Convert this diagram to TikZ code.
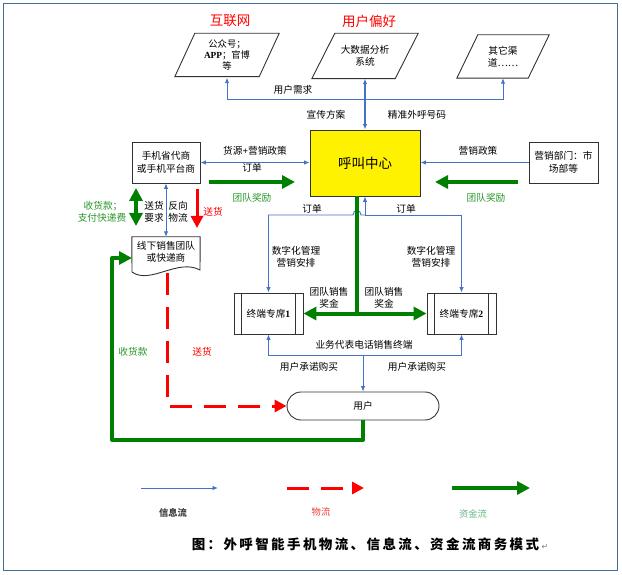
\documentclass[tikz,border=0pt]{standalone}
\usepackage{fontspec}
\setmainfont{Noto Sans CJK SC}
\newfontfamily\dejavu{DejaVu Sans}
\newfontfamily\serifl{Liberation Serif}
\usetikzlibrary{arrows.meta,shapes.misc}
\definecolor{infob}{RGB}{68,114,196}
\definecolor{mgreen}{RGB}{0,128,0}
\definecolor{tgreen}{RGB}{40,150,40}
\definecolor{lgreen}{RGB}{100,180,130}
\definecolor{bordc}{RGB}{65,110,155}
\definecolor{boxc}{RGB}{50,50,50}
\definecolor{lred}{RGB}{240,60,60}
\makeatletter
\newcommand\spacedtext[1]{\@tfor\ch:=#1\do{\ch\kern2.4pt}}
\makeatother
\begin{document}
\begin{tikzpicture}[x=1pt,y=-1pt,
  every node/.style={inner sep=0pt, font=\fontsize{9.7}{12.5}\selectfont, align=center},
  boxline/.style={draw=boxc, line width=0.9pt},
  box/.style={boxline, minimum width=68pt, minimum height=41pt},
  plain/.style={minimum width=84pt, minimum height=45pt},
  lab/.style={text=black},
  glab/.style={text=tgreen},
  rlab/.style={text=red},
  title/.style={text=red, font=\fontsize{13.5}{15}\selectfont},
  info/.style={draw=infob, line width=0.9pt, >={Latex[length=5.5pt,width=4.5pt]}},
  money/.style={draw=mgreen, line width=4pt, line join=round, >={Triangle[length=13pt,width=13pt]}},
  goods/.style={draw=red, line width=3pt, dash pattern=on 22pt off 12pt, >={Triangle[length=12pt,width=12pt]}},
  goodsolid/.style={draw=red, line width=3pt, >={Triangle[length=12pt,width=12pt]}}
]
\useasboundingbox (0,0) rectangle (622,575);
\draw[bordc, line width=1.5pt] (3.5,3.5) rectangle (617.5,570.5);

% ---- top titles
\node[title] (t-net) at (230,21) {互联网};
\node[title] (t-pref) at (369,21) {用户偏好};

% ---- parallelograms
\node[plain, font=\fontsize{9.3}{11}\selectfont] (p1) at (227,55) {公众号；\\{\serifl\bfseries APP}；官博\\等};
\draw[boxline] ([xshift=10pt,yshift=-1pt]p1.north west) -- ([xshift=10pt,yshift=-1pt]p1.north east) -- ([xshift=-10pt,yshift=1pt]p1.south east) -- ([xshift=-10pt,yshift=1pt]p1.south west) -- cycle;
\node[plain, minimum width=83pt] (p2) at (365,56) {大数据分析\\系统};
\draw[boxline] ([xshift=11.5pt]p2.north west) -- ([xshift=11.5pt]p2.north east) -- ([xshift=-11.5pt]p2.south east) -- ([xshift=-11.5pt]p2.south west) -- cycle;
\node[plain, minimum width=71pt, minimum height=43pt] (p3) at (503,56.5) {其它渠\\道……};
\draw[boxline] ([xshift=10.5pt]p3.north west) -- ([xshift=10.5pt]p3.north east) -- ([xshift=-10.5pt]p3.south east) -- ([xshift=-10.5pt]p3.south west) -- cycle;

% ---- main boxes
\node[box, fill=yellow, minimum width=110pt, minimum height=66pt, font=\fontsize{13.5}{15}\selectfont] (cc) at (365,163) {呼叫中心};
\node[box] (lb) at (166,162.5) {手机省代商\\或手机平台商};
\node[box, minimum width=69pt] (rb) at (563.5,162.5) {营销部门：市\\场部等};

% document shape
\node[minimum width=68pt, minimum height=30pt] (doc) at (166,252) {线下销售团队\\或快递商};
\draw[boxline] (132,272) -- (doc.north west) -- (doc.north east) -- (200,270) .. controls (178,258) and (150,285) .. (132,272);

% terminals
\node[box, minimum width=69pt] (t1) at (268.5,313.5) {终端专席{\serifl\bfseries 1}};
\draw[boxline] ([xshift=8pt]t1.north west) -- ([xshift=8pt]t1.south west);
\draw[boxline] ([xshift=-8pt]t1.north east) -- ([xshift=-8pt]t1.south east);
\node[box, minimum width=69pt] (t2) at (461.5,313.5) {终端专席{\serifl\bfseries 2}};
\draw[boxline] ([xshift=8pt]t2.north west) -- ([xshift=8pt]t2.south west);
\draw[boxline] ([xshift=-8pt]t2.north east) -- ([xshift=-8pt]t2.south east);

% user
\node[boxline, rounded rectangle, minimum width=152pt, minimum height=28pt] (user) at (363,406) {用户};

% ---- info flows (top)
\coordinate (tb) at (365,99);
\draw[info,->] (tb) -| (p1.south);
\draw[info,->] (tb) -| (p3.south);
\draw[info,<->,line width=1.3pt] (cc.north) -- (p2.south);
\node[lab] (l-need) at (293,90) {用户需求};
\node[lab] (l-xc) at (326,115) {宣传方案};
\node[lab] (l-jz) at (417,115) {精准外呼号码};

% left / right info
\draw[info,<->] (lb.east) -- (cc.west |- lb.east);
\draw[info,->] (rb.west) -- (cc.east |- rb.west);
\node[lab] (l-hy) at (255,151) {货源{\serifl\bfseries +}营销政策};
\node[lab] (l-dd0) at (252,168) {订单};
\node[lab] (l-yx) at (478,151) {营销政策};

% green reward arrows
\coordinate (ga1) at (209,182); \coordinate (ga2) at (295,182);
\coordinate (gb1) at (518,182); \coordinate (gb2) at (435,182);
\draw[money,->] (ga1) -- (ga2);
\draw[money,->] (gb1) -- (gb2);
\node[glab] (l-tj1) at (252,198) {团队奖励};
\node[glab] (l-tj2) at (486,198) {团队奖励};

% left column flows
\draw[info,<->] (lb.south) -- (doc.north);
\coordinate (gv1) at (136,188); \coordinate (gv2) at (136,226);
\draw[money,<->] (gv1) -- (gv2);
\coordinate (rv1) at (197,189); \coordinate (rv2) at (197,228);
\draw[goodsolid,->] (rv1) -- (rv2);
\node[glab] (l-sk) at (103,206) {收货款；};
\node[glab] (l-zf) at (102,218) {支付快递费};
\node[lab] (l-sh) at (154,212) {送货\\要求};
\node[lab] (l-fx) at (178,212) {反向\\物流};
\node[rlab] (l-sh2) at (213,212) {送货};

% call center -> terminals
\coordinate (ob) at (365,215);
\coordinate (hopR) at (361,215); \coordinate (hopL) at (353,215);
\draw[info,->] (ob) -- (cc.south -| ob);
\draw[info,->] (ob) -- (hopR) .. controls (361,209) and (353,209) .. (hopL) -| (t1.north);
\draw[info,->] (ob) -| (t2.north);
\coordinate (gc) at (357,313.5);
\draw[money,->] (cc.south -| gc) -- (gc) -- (t1.east);
\draw[money,->] (gc) -- (t2.west);
\node[lab] (l-dd1) at (312,209) {订单};
\node[lab] (l-dd2) at (406,209) {订单};
\node[lab] (l-sz1) at (296,257) {数字化管理\\营销安排};
\node[lab] (l-sz2) at (431,257) {数字化管理\\营销安排};
\node[lab] (l-td1) at (329,298) {团队销售\\奖金};
\node[lab] (l-td2) at (384,298) {团队销售\\奖金};

% terminals -> user
\coordinate (ub) at (363,355);
\draw[info,->] (ub) -| (t1.south);
\draw[info,->] (ub) -| (t2.south);
\draw[info,->] (ub) -- (user.north);
\node[lab] (l-yw) at (364,345) {业务代表电话销售终端};
\node[lab] (l-cn1) at (309,367) {用户承诺购买};
\node[lab] (l-cn2) at (417,367) {用户承诺购买};

% goods to user, money back
\coordinate (rd1) at (167,273);
\draw[goods,->] (rd1) |- (user.west);
\coordinate (gl1) at (112,440); \coordinate (gl2) at (132,258);
\draw[money,->] (user.south) |- (gl1) |- (gl2);
\node[glab] (l-sk2) at (133,352) {收货款};
\node[rlab] (l-sh3) at (202,352) {送货};

% ---- legend
\coordinate (lg1) at (141,488); \coordinate (lg2) at (218,488);
\coordinate (lg3) at (287,488); \coordinate (lg4) at (364,488);
\coordinate (lg5) at (452,488); \coordinate (lg6) at (530,488);
\draw[info,->] (lg1) -- (lg2);
\draw[goods,->] (lg3) -- (lg4);
\draw[money,line width=3.5pt,->] (lg5) -- (lg6);
\node[text=black!75, font=\fontsize{9.3}{11}\selectfont\bfseries] (lg-i) at (173,513) {信息流};
\node[text=lred, font=\fontsize{9.3}{11}\selectfont] (lg-g) at (321,512) {物流};
\node[text=lgreen, font=\fontsize{9.3}{11}\selectfont] (lg-m) at (473,514) {资金流};

% caption
\node[font=\fontsize{13.5}{15}\selectfont\bfseries] (cap) at (370,544) {\spacedtext{图：外呼智能手机物流、信息流、资金流商务模式}{\dejavu\mdseries\fontsize{8}{10}\selectfont\color{gray}↵}};
\end{tikzpicture}
\end{document}
